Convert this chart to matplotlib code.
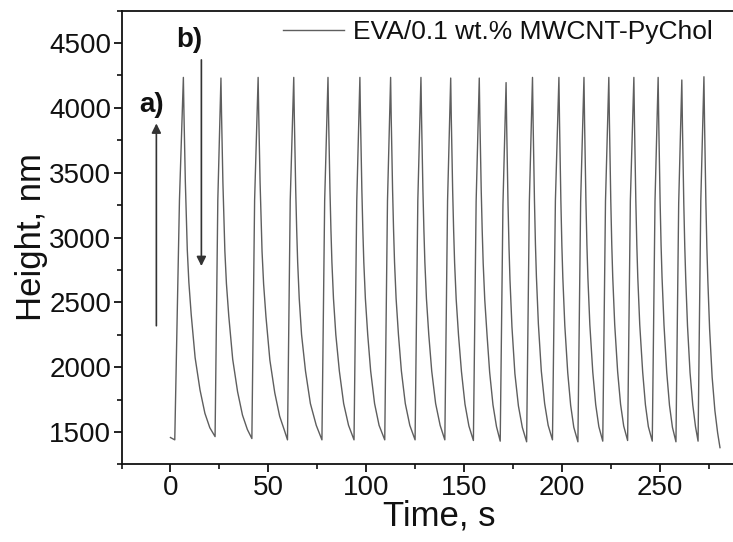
import matplotlib
matplotlib.use("Agg")
import matplotlib.pyplot as plt
from matplotlib.ticker import MultipleLocator

plt.rcParams['font.family'] = ['Liberation Sans', 'DejaVu Sans']

# ---- data (time in s, height in nm), cycle by cycle ----
time_s = [
    0.0, 2.2, 4.6, 6.6, 6.9, 7.3, 7.6, 8.1, 8.6, 9.4, 10.6, 12.6, 15.1, 17.6, 20.1,
    22.8, 24.2, 25.8, 26.1, 26.5, 26.8, 27.3, 27.8, 28.6, 29.8, 31.8, 34.3, 36.8, 39.3,
    41.6, 43.0, 44.8, 45.1, 45.5, 45.8, 46.3, 46.8, 47.6, 48.8, 50.8, 53.3, 55.8, 58.3,
    59.8, 61.2, 63.0, 63.3, 63.7, 64.0, 64.5, 65.0, 65.8, 67.0, 69.0, 71.5, 74.5,
    77.4, 78.8, 80.5, 80.8, 81.2, 81.5, 82.0, 82.5, 83.3, 84.5, 86.3, 88.5, 91.0,
    93.8, 95.2, 96.8, 97.1, 97.5, 97.8, 98.3, 98.8, 99.6, 100.8, 102.3, 104.3, 106.6,
    109.5, 110.9, 112.5, 112.8, 113.2, 113.5, 114.0, 114.5, 115.3, 116.5, 118.0, 120.0, 122.3,
    125.0, 126.4, 128.0, 128.3, 128.7, 129.0, 129.5, 130.0, 130.8, 132.0, 133.5, 135.5, 137.8,
    140.2, 141.6, 143.2, 143.5, 143.9, 144.2, 144.7, 145.2, 146.0, 147.2, 148.7, 150.5, 152.5,
    154.8, 156.2, 157.8, 158.1, 158.5, 158.8, 159.3, 159.8, 160.6, 161.8, 163.1, 164.8, 166.6,
    168.5, 169.9, 171.5, 171.8, 172.2, 172.5, 173.0, 173.5, 174.5, 176.0, 177.8, 179.8,
    182.0, 183.4, 185.0, 185.3, 185.7, 186.0, 186.5, 187.0, 188.0, 189.5, 191.2, 193.0,
    195.2, 196.7, 198.5, 198.8, 199.2, 199.5, 200.0, 200.5, 201.5, 203.0, 204.5, 206.1,
    208.2, 209.6, 211.3, 211.6, 212.0, 212.3, 212.8, 213.3, 214.3, 215.8, 217.3, 218.9,
    220.9, 222.3, 224.0, 224.3, 224.7, 225.0, 225.5, 226.0, 227.0, 228.5, 230.0, 231.6,
    233.6, 235.0, 236.8, 237.1, 237.5, 237.8, 238.3, 238.8, 239.8, 241.3, 242.7, 244.2,
    246.2, 247.6, 249.2, 249.5, 249.9, 250.2, 250.7, 251.2, 252.2, 253.6, 255.0, 256.5,
    258.3, 259.7, 261.3, 261.6, 262.0, 262.3, 262.8, 263.3, 264.2, 265.5, 266.9, 268.3,
    269.6, 271.0, 272.6, 272.9, 273.3, 273.6, 274.1, 274.6, 275.5, 276.8, 278.2, 279.6, 280.8,
]
height_nm = [
    1458, 1440, 3290, 4235, 3958, 3653, 3432, 3155, 2905, 2656, 2407, 2074, 1825, 1645, 1534,
    1465, 3290, 4230, 3952, 3646, 3424, 3146, 2896, 2645, 2395, 2062, 1811, 1631, 1520,
    1450, 3288, 4235, 3956, 3648, 3424, 3145, 2893, 2642, 2390, 2055, 1803, 1622, 1510,
    1440, 3285, 4235, 3928, 3592, 3369, 3061, 2810, 2530, 2251, 1971, 1720, 1552,
    1440, 3285, 4235, 3928, 3592, 3369, 3061, 2810, 2530, 2251, 1971, 1720, 1552,
    1440, 3285, 4235, 3928, 3592, 3369, 3061, 2810, 2530, 2251, 1971, 1720, 1552,
    1440, 3285, 4235, 3928, 3592, 3369, 3061, 2810, 2530, 2251, 1971, 1720, 1552,
    1440, 3285, 4235, 3928, 3592, 3369, 3061, 2810, 2530, 2251, 1971, 1720, 1552,
    1440, 3282, 4230, 3923, 3587, 3364, 3056, 2805, 2525, 2246, 1966, 1715, 1547,
    1435, 3280, 4230, 3922, 3586, 3362, 3054, 2802, 2522, 2242, 1962, 1710, 1542,
    1430, 3255, 4195, 3863, 3503, 3253, 2921, 2672, 2311, 1951, 1702, 1536,
    1425, 3280, 4235, 3900, 3536, 3285, 2949, 2698, 2334, 1971, 1720, 1552,
    1440, 3285, 4235, 3898, 3533, 3280, 2942, 2690, 2324, 1959, 1706, 1537,
    1425, 3280, 4235, 3898, 3534, 3281, 2945, 2692, 2328, 1963, 1711, 1542,
    1430, 3281, 4235, 3899, 3535, 3283, 2947, 2695, 2331, 1967, 1715, 1547,
    1435, 3283, 4235, 3898, 3534, 3281, 2945, 2692, 2328, 1963, 1711, 1542,
    1430, 3281, 4235, 3898, 3533, 3280, 2942, 2690, 2324, 1959, 1706, 1537,
    1425, 3266, 4215, 3881, 3519, 3268, 2934, 2683, 2321, 1959, 1709, 1541,
    1430, 3285, 4240, 3897, 3525, 3268, 2924, 2667, 2295, 1923, 1666, 1494, 1380,
]
series_label = "EVA/0.1 wt.% MWCNT-PyChol"
x_label = "Time, s"
y_label = "Height, nm"
x_ticks = [0, 50, 100, 150, 200, 250]
y_ticks = [1500, 2000, 2500, 3000, 3500, 4000, 4500]

# annotation arrows (data coordinates)
arrow_a = {"text": "a)", "text_xy": (-9.5, 4020), "tail": (-7.2, 2320), "head": (-7.2, 3880)}
arrow_b = {"text": "b)", "text_xy": (9.5, 4525), "tail": (15.8, 4370), "head": (15.8, 2780)}

# ---- figure ----
fig = plt.figure(figsize=(7.33, 5.42), dpi=100)
# the original frame runs past the right edge of the picture (cropped)
ax = fig.add_axes([0.1658, 0.1430, 0.8677, 0.8374])

line_color = "#5e5e5e"
ax.plot(time_s, height_nm, color=line_color, lw=1.0, label=series_label)

ax.set_xlim(-25, 300)
ax.set_ylim(1250, 4750)
ax.set_xticks(x_ticks)
ax.set_yticks(y_ticks)
ax.xaxis.set_minor_locator(MultipleLocator(25))
ax.yaxis.set_minor_locator(MultipleLocator(250))

ax.spines['right'].set_visible(False)
for s in ['left', 'bottom', 'top']:
    ax.spines[s].set_linewidth(1.3)
    ax.spines[s].set_color('#111111')

ax.tick_params(which='major', direction='out', length=5.5, width=1.3, labelsize=20,
               colors='#111111', pad=2)
ax.tick_params(which='minor', direction='out', length=3.5, width=1.2, colors='#111111')
ax.tick_params(top=False, right=False, which='both')

ax.set_xlabel(x_label, fontsize=25, color='#111111', labelpad=-1)
ax.set_ylabel(y_label, fontsize=25, color='#111111', labelpad=1)

for arr in (arrow_a, arrow_b):
    ax.annotate("", xy=arr["head"], xytext=arr["tail"],
                arrowprops=dict(arrowstyle='-|>', color='#333333', lw=1.2,
                                mutation_scale=14, shrinkA=0, shrinkB=0))
    ax.text(arr["text_xy"][0], arr["text_xy"][1], arr["text"], fontsize=20,
            fontweight='bold', ha='center', va='center', color='#111111')

leg = ax.legend(loc='center left', bbox_to_anchor=(283 / 733, 1 - 32 / 542),
                bbox_transform=fig.transFigure, frameon=False, fontsize=19,
                handlelength=2.3, handletextpad=0.35, borderpad=0, borderaxespad=0)
for t in leg.get_texts():
    t.set_color('#111111')

fig.savefig("out.png", dpi=100)
